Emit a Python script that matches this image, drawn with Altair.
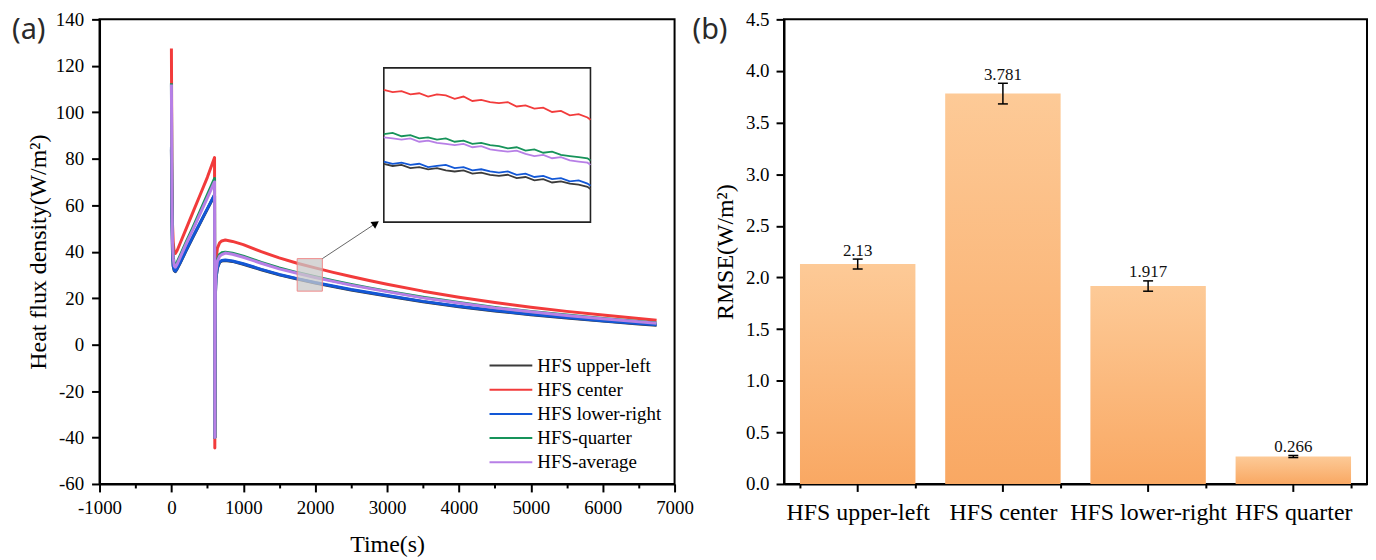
import altair as alt
import pandas as pd

# ---------------- panel (a) data ----------------
SERIES = ["HFS upper-left", "HFS center", "HFS lower-right", "HFS-quarter", "HFS-average"]
COLORS = ["#3b3b3b", "#f23b3b", "#1257d6", "#17935a", "#b77fe6"]

time_s = [0, 8, 15, 25, 40, 55, 80, 120, 200, 300, 400, 500, 600, 604, 608, 612, 620, 640, 670, 700,
          750, 850, 1000, 1250, 1500, 1750, 2000, 2250, 2500, 2750, 3000, 3500, 4000, 4500, 5000, 5500, 6000, 6500, 6750]

hfs_upper_left = [84, 54.5, 39.5, 33.8, 31.8, 31.4, 32.6, 35.0, 40.1, 46.3, 52.3, 58.3, 64.3, -40, 2, 21.3, 28.3, 33.0, 35.4, 36.0,
                  36.2, 35.8, 34.6, 32.2, 30.0, 28.2, 26.5, 25.0, 23.5, 22.2, 20.9, 18.4, 16.3, 14.5, 12.8, 11.4, 10.1, 8.9, 8.3]
hfs_center = [127.5, 70, 52, 44, 39.5, 39.2, 40.5, 43.5, 49.5, 57.0, 64.5, 72.0, 80.5, -44.5, 5, 28, 36, 41.5, 43.8, 44.6,
              45.0, 44.4, 43.0, 40.0, 37.3, 35.0, 33.0, 31.1, 29.3, 27.6, 26.0, 23.0, 20.4, 18.1, 16.1, 14.3, 12.7, 11.2, 10.5]
hfs_lower_right = [85, 55, 40, 34, 32, 31.6, 32.8, 35.2, 40.3, 46.5, 52.5, 58.5, 64.5, -40, 2, 21.5, 28.5, 33.2, 35.6, 36.2,
                   36.4, 36.0, 34.8, 32.4, 30.2, 28.4, 26.7, 25.2, 23.7, 22.4, 21.1, 18.6, 16.5, 14.7, 13.0, 11.6, 10.3, 9.1, 8.5]
hfs_quarter = [112.5, 62, 45, 38, 34.5, 34.0, 35.5, 38.2, 43.8, 50.5, 57.5, 64.5, 71.5, -40, 3, 24, 31.5, 36.5, 38.8, 39.5,
               39.8, 39.3, 38.1, 35.4, 33.0, 31.0, 29.2, 27.5, 25.9, 24.4, 23.0, 20.4, 18.1, 16.0, 14.2, 12.7, 11.2, 9.9, 9.3]
hfs_average = [112, 61, 44, 37.2, 33.8, 33.3, 34.6, 37.4, 43.0, 49.5, 56.4, 63.2, 70.0, -40, 3, 23.5, 31, 35.8, 38.0, 38.7,
               39.4, 38.9, 37.6, 35.0, 32.6, 30.7, 28.9, 27.2, 25.6, 24.2, 22.8, 20.1, 17.9, 15.8, 14.1, 12.5, 11.1, 9.8, 9.2]

# zoomed window (inset) samples, 1750 s .. 2100 s
inset_time = [1750, 1765, 1780, 1795, 1810, 1825, 1840, 1855, 1870, 1885, 1900, 1915, 1930,
              1945, 1960, 1975, 1990, 2005, 2020, 2035, 2050, 2065, 2080, 2095, 2100]
inset_upper_left = [28.3, 28.1, 28.2, 27.9, 28.0, 27.8, 27.9, 27.7, 27.6, 27.7, 27.4, 27.5, 27.3,
                    27.2, 27.3, 27.0, 27.1, 26.8, 26.9, 26.6, 26.7, 26.5, 26.4, 26.2, 26.0]
inset_center = [35.0, 34.8, 34.9, 34.6, 34.7, 34.4, 34.6, 34.5, 34.2, 34.4, 34.0, 34.1, 33.9,
                33.8, 33.9, 33.5, 33.6, 33.3, 33.4, 33.0, 33.1, 32.7, 32.8, 32.5, 32.3]
inset_lower_right = [28.5, 28.3, 28.4, 28.2, 28.3, 28.0, 28.1, 28.2, 27.9, 28.0, 27.7, 27.8, 27.6,
                     27.5, 27.6, 27.3, 27.4, 27.1, 27.2, 26.9, 27.0, 26.7, 26.8, 26.5, 26.3]
inset_quarter = [31.0, 31.1, 30.8, 30.9, 30.6, 30.7, 30.5, 30.6, 30.3, 30.4, 30.1, 30.2, 30.0,
                 29.9, 29.7, 29.8, 29.5, 29.6, 29.3, 29.4, 29.1, 29.0, 28.9, 28.8, 28.6]
inset_average = [30.7, 30.6, 30.5, 30.6, 30.3, 30.4, 30.2, 30.1, 30.0, 30.1, 29.8, 29.9, 29.6,
                 29.5, 29.4, 29.5, 29.2, 29.0, 29.1, 28.8, 28.9, 28.6, 28.5, 28.4, 28.2]

# zoom window (data coords) and inset box placement (data coords of main axes)
zoom_t = [1750, 2100]
zoom_v = [23, 37]
inset_box_t = [2955, 5830]
inset_box_v = [52.7, 119.1]
arrow_t = [2100, 2844]
arrow_v = [37, 52.2]

# ---------------- panel (b) data ----------------
cats = ["HFS upper-left", "HFS center", "HFS lower-right", "HFS quarter"]
rmse = [2.13, 3.781, 1.917, 0.266]
rmse_err = [0.048, 0.10, 0.05, 0.01]
rmse_text = ["2.13", "3.781", "1.917", "0.266"]

SERIF = "Liberation Serif"

main_cols = [hfs_upper_left, hfs_center, hfs_lower_right, hfs_quarter, hfs_average]
inset_cols = [inset_upper_left, inset_center, inset_lower_right, inset_quarter, inset_average]

rows = []
for name, vals in zip(SERIES, main_cols):
    for t, v in zip(time_s, vals):
        rows.append({"series": name, "t": t, "v": v})
df_main = pd.DataFrame(rows)

rows = []
for name, vals in zip(SERIES, inset_cols):
    for t, v in zip(inset_time, vals):
        rows.append({"series": name, "t": t, "v": v})
df_inset = pd.DataFrame(rows)

color_scale = alt.Scale(domain=SERIES, range=COLORS)
legend = alt.Legend(
    title=None, orient="none", legendX=391, legendY=338.5, symbolType="stroke",
    symbolSize=1849, symbolStrokeWidth=2, labelFontSize=19, labelFont=SERIF,
    labelColor="black", clipHeight=19, rowPadding=4.3, labelOffset=4, padding=0,
    labelLimit=300,
)
color_enc = alt.Color("series:N", scale=color_scale, legend=legend)

x_scale = alt.Scale(domain=[-1000, 7000], nice=False, zero=False)
y_scale = alt.Scale(domain=[-60, 140], nice=False, zero=False)

x_axis = alt.Axis(
    values=list(range(-1000, 7001, 500)),
    labelExpr="datum.value % 1000 === 0 ? (datum.value < 0 ? '-' + abs(datum.value) : '' + datum.value) : ''",
    tickSize={"condition": {"test": "datum.value % 1000 !== 0", "value": 4}, "value": 8},
    labelPadding=7, labelFontSize=19, labelFont=SERIF, labelFlush=False, labelOverlap=False,
    title="Time(s)", titleFontSize=24, titleFont=SERIF, titlePadding=15,
)
y_axis = alt.Axis(
    values=list(range(-60, 141, 20)),
    labelExpr="datum.value < 0 ? '-' + abs(datum.value) : '' + datum.value",
    tickSize=8, labelPadding=8, labelFont=SERIF,
    labelFontSize=19, labelFlush=False, labelOverlap=False,
    title="Heat flux density(W/m²)", titleFontSize=24, titleFont=SERIF, titlePadding=5,
)

X = alt.X("t:Q", scale=x_scale, axis=x_axis)
Y = alt.Y("v:Q", scale=y_scale, axis=y_axis)

layers = []
for name in SERIES:
    layers.append(
        alt.Chart(df_main).transform_filter(alt.datum.series == name)
        .mark_line(strokeWidth=3, strokeJoin="round")
        .encode(x=X, y=Y, color=color_enc, order="t:Q")
    )

box_df = pd.DataFrame({"t": [inset_box_t[0]], "t2": [inset_box_t[1]],
                       "v": [inset_box_v[0]], "v2": [inset_box_v[1]]})
inset_box = alt.Chart(box_df).mark_rect(fill="white", stroke="#222222", strokeWidth=1.6).encode(
    x=alt.X("t:Q", scale=x_scale, axis=x_axis), x2="t2:Q",
    y=alt.Y("v:Q", scale=y_scale, axis=y_axis), y2="v2:Q")
layers.append(inset_box)

kx = (inset_box_t[1] - inset_box_t[0]) / (zoom_t[1] - zoom_t[0])
ky = (inset_box_v[1] - inset_box_v[0]) / (zoom_v[1] - zoom_v[0])
for name in SERIES:
    layers.append(
        alt.Chart(df_inset).transform_filter(alt.datum.series == name)
        .transform_calculate(
            tx=f"{inset_box_t[0]} + (datum.t - {zoom_t[0]}) * {kx}",
            vy=f"{inset_box_v[0]} + (datum.v - {zoom_v[0]}) * {ky}",
        )
        .mark_line(strokeWidth=1.8)
        .encode(x=alt.X("tx:Q", scale=x_scale, axis=x_axis),
                y=alt.Y("vy:Q", scale=y_scale, axis=y_axis),
                color=color_enc, order="t:Q")
    )

zoom_df = pd.DataFrame({"t": [zoom_t[0]], "t2": [zoom_t[1]], "v": [zoom_v[0]], "v2": [zoom_v[1]]})
zoom_rect = alt.Chart(zoom_df).mark_rect(fill="#c8c8c8", fillOpacity=0.75, stroke="#f08a8a", strokeWidth=1).encode(
    x=alt.X("t:Q", scale=x_scale, axis=x_axis), x2="t2:Q",
    y=alt.Y("v:Q", scale=y_scale, axis=y_axis), y2="v2:Q")
layers.append(zoom_rect)

arrow_df = pd.DataFrame({"t": [arrow_t[0]], "t2": [arrow_t[1]], "v": [arrow_v[0]], "v2": [arrow_v[1]]})
arrow = alt.Chart(arrow_df).mark_rule(color="#666666", strokeWidth=1).encode(
    x=alt.X("t:Q", scale=x_scale, axis=x_axis), x2="t2:Q",
    y=alt.Y("v:Q", scale=y_scale, axis=y_axis), y2="v2:Q")
layers.append(arrow)
head_df = pd.DataFrame({"t": [arrow_t[1]], "v": [arrow_v[1]]})
head = alt.Chart(head_df).mark_point(shape="triangle-up", filled=True, color="black", size=70, angle=56, opacity=1).encode(
    x=alt.X("t:Q", scale=x_scale, axis=x_axis), y=alt.Y("v:Q", scale=y_scale, axis=y_axis))
layers.append(head)

tag_a = alt.Chart(pd.DataFrame({"label": ["(a)"]})).mark_text(
    font="Noto Sans", fontSize=29, align="left", baseline="middle", color="#2a2a2a"
).encode(text="label:N", x=alt.value(-88), y=alt.value(11))
layers.append(tag_a)

panel_a = alt.layer(*layers).properties(width=578, height=467)

# ---------------- panel (b) ----------------
PB_W, PB_H = 586, 467
df_b = pd.DataFrame({"cat": cats, "rmse": rmse, "err": rmse_err, "label": rmse_text})
df_b["lo"] = df_b["rmse"] - df_b["err"]
df_b["hi"] = df_b["rmse"] + df_b["err"]

# axis ticks at band edges (short); centred category ticks drawn by a rule layer
xb_axis = alt.Axis(title=None, labelAngle=0, labelFontSize=24, tickSize=4, tickBand="extent",
                   labelPadding=13, labelFont=SERIF, labelOverlap=False, labelLimit=400)
yb_scale = alt.Scale(domain=[0, 4.5], nice=False)
yb_axis = alt.Axis(values=[0, 0.5, 1, 1.5, 2, 2.5, 3, 3.5, 4, 4.5], format=".1f", tickSize=8,
                   labelPadding=7, labelFontSize=19, labelFont=SERIF, labelFlush=False, labelOverlap=False,
                   title="RMSE(W/m²)", titleFontSize=24, titleFont=SERIF, titlePadding=8)
xb_scale = alt.Scale(paddingInner=0.205, paddingOuter=0.11)
XB = alt.X("cat:N", sort=cats, scale=xb_scale, axis=xb_axis)

gradient = {
    "gradient": "linear", "x1": 0, "x2": 0, "y1": 0, "y2": 1,
    "stops": [{"offset": 0, "color": "#fdca97"}, {"offset": 1, "color": "#f9a863"}],
}
bars = alt.Chart(df_b).mark_bar(color=gradient).encode(
    x=XB, y=alt.Y("rmse:Q", scale=yb_scale, axis=yb_axis))
center_ticks = alt.Chart(df_b).mark_rule(color="black", strokeWidth=2).encode(
    x=XB, y=alt.value(PB_H), y2=alt.value(PB_H + 8))
err_rule = alt.Chart(df_b).mark_rule(color="black", strokeWidth=1.5).encode(
    x=XB, y=alt.Y("lo:Q", scale=yb_scale, axis=yb_axis), y2="hi:Q")
cap_lo = alt.Chart(df_b).mark_tick(color="black", thickness=1.5, size=10, opacity=1).encode(
    x=XB, y=alt.Y("lo:Q", scale=yb_scale, axis=yb_axis))
cap_hi = alt.Chart(df_b).mark_tick(color="black", thickness=1.5, size=10, opacity=1).encode(
    x=XB, y=alt.Y("hi:Q", scale=yb_scale, axis=yb_axis))
val_text = alt.Chart(df_b).mark_text(font=SERIF, fontSize=17, baseline="alphabetic", dy=-3.5, color="#111111").encode(
    x=XB, y=alt.Y("hi:Q", scale=yb_scale, axis=yb_axis), text="label:N")
tag_b = alt.Chart(pd.DataFrame({"label": ["(b)"]})).mark_text(
    font="Noto Sans", fontSize=29, align="left", baseline="middle", color="#2a2a2a"
).encode(text="label:N", x=alt.value(-92), y=alt.value(11))

panel_b = alt.layer(bars, center_ticks, err_rule, cap_lo, cap_hi, val_text, tag_b).properties(width=PB_W, height=PB_H)

chart = (
    alt.hconcat(panel_a, panel_b, spacing=110, bounds="flush")
    .properties(padding={"left": 3, "top": 0, "right": 0, "bottom": 0}, background="white")
    .configure_view(stroke="black", strokeWidth=2)
    .configure_axis(domainColor="black", domainWidth=2, tickColor="black", tickWidth=2,
                    labelColor="black", titleColor="black", labelFont=SERIF, titleFont=SERIF,
                    titleFontWeight="normal", grid=False)
)

chart.save("out.html", embed_options={"renderer": "svg", "actions": False})
